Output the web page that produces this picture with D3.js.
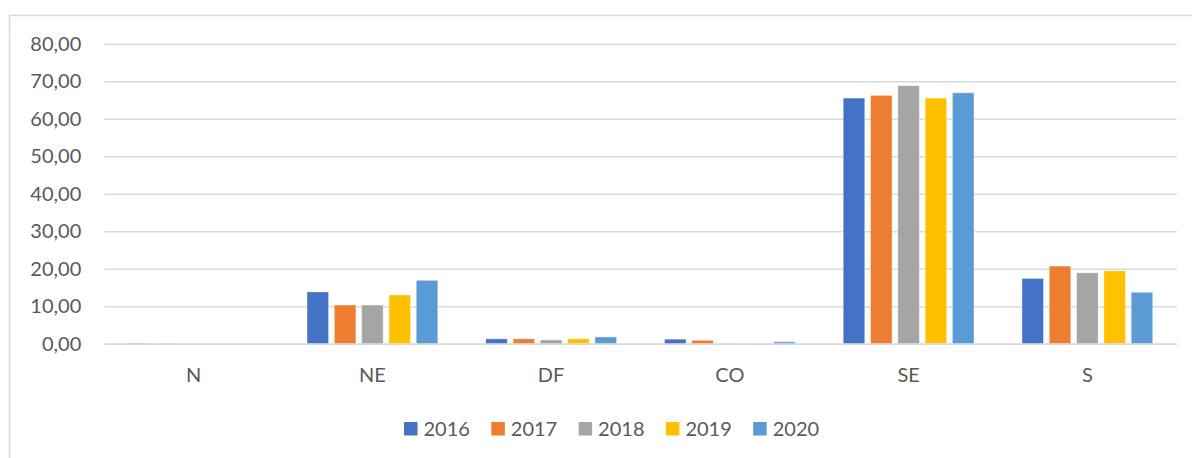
<!DOCTYPE html>
<html>
<head>
<meta charset="utf-8">
<script src="https://cdnjs.cloudflare.com/ajax/libs/d3/7.8.5/d3.min.js"></script>
<style>
    html, body { margin: 0; padding: 0; background: #fff; }
    svg text { font-family: Lato, "Open Sans", sans-serif; fill: #595959; }
</style>
</head>
<body>
<div id="chart"></div>
<script>
"use strict";

var categories = ["N", "NE", "DF", "CO", "SE", "S"];
var years = ["2016", "2017", "2018", "2019", "2020"];
var colors = ["#4472C4", "#ED7D31", "#A5A5A5", "#FFC000", "#5B9BD5"];
var yTicks = [0, 10, 20, 30, 40, 50, 60, 70, 80];

// one array per year, in the order of categories
var v2016 = [0.10, 13.8, 1.3, 1.2, 65.5, 17.4];
var v2017 = [0.10, 10.3, 1.3, 0.9, 66.2, 20.7];
var v2018 = [0.05, 10.3, 1.0, 0.1, 68.8, 18.9];
var v2019 = [0.05, 13.0, 1.3, 0.1, 65.5, 19.4];
var v2020 = [0.05, 16.9, 1.8, 0.5, 66.9, 13.7];
var seriesValues = [v2016, v2017, v2018, v2019, v2020];

var width = 1192, height = 458;
var margin = { top: 43.7, right: 15.3, bottom: 114.3, left: 104.3 };

var svg = d3.select("#chart").append("svg")
    .attr("width", width)
    .attr("height", height);

// chart frame
svg.append("path")
    .attr("d", "M9.5," + height + "V15.5H" + width)
    .attr("fill", "none")
    .attr("stroke", "#D9D9D9")
    .attr("stroke-width", 1.5);

var x0 = d3.scaleBand()
    .domain(categories)
    .range([margin.left, width - margin.right])
    .paddingInner(0)
    .paddingOuter(0);

var x1 = d3.scaleBand()
    .domain(years)
    .range([0, x0.bandwidth()])
    .paddingInner(0.212)
    .paddingOuter(0.879);

var y = d3.scaleLinear()
    .domain([0, 80])
    .range([height - margin.bottom, margin.top]);

var fmt = function (d) { return d3.format(".2f")(d).replace(".", ","); };

var yAxis = svg.append("g")
    .attr("transform", "translate(" + margin.left + ",0)")
    .call(d3.axisLeft(y)
        .tickValues(yTicks)
        .tickFormat(fmt)
        .tickSize(-(width - margin.left - margin.right))
        .tickPadding(23)
    );
yAxis.select(".domain").remove();
yAxis.selectAll(".tick line")
    .attr("stroke", "#D9D9D9")
    .attr("stroke-width", 1.5);
yAxis.selectAll(".tick text")
    .style("font-size", "20px")
    .style("fill", "#595959");

var groups = svg.append("g").selectAll("g")
    .data(categories)
    .enter().append("g")
    .attr("transform", function (d) { return "translate(" + x0(d) + ",0)"; });

groups.selectAll("rect")
    .data(function (cat, ci) {
        return years.map(function (yr, si) {
            return { year: yr, value: seriesValues[si][ci], color: colors[si] };
        });
    })
    .enter().append("rect")
    .attr("x", function (d) { return x1(d.year); })
    .attr("width", x1.bandwidth())
    .attr("y", function (d) { return y(d.value); })
    .attr("height", function (d) { return y(0) - y(d.value); })
    .attr("fill", function (d) { return d.color; })
    .attr("stroke", "rgba(255,255,255,0.35)")
    .attr("stroke-width", 1);

var xAxis = svg.append("g")
    .attr("transform", "translate(0," + y(0) + ")")
    .call(d3.axisBottom(x0).tickSize(0).tickPadding(24));
xAxis.select(".domain")
    .attr("stroke", "#D9D9D9")
    .attr("stroke-width", 1.5);
xAxis.selectAll(".tick text")
    .style("font-size", "20px")
    .style("fill", "#595959");

// legend
var legend = svg.append("g")
    .attr("transform", "translate(404,422)");

var item = legend.selectAll("g")
    .data(years)
    .enter().append("g")
    .attr("transform", function (d, i) { return "translate(" + (i * 87.3) + ",0)"; });

item.append("rect")
    .attr("width", 13.5)
    .attr("height", 13.5)
    .attr("fill", function (d, i) { return colors[i]; });

item.append("text")
    .attr("x", 19.5)
    .attr("y", 7)
    .attr("dy", "0.35em")
    .style("font-size", "20px")
    .text(function (d) { return d; });
</script>
</body>
</html>
